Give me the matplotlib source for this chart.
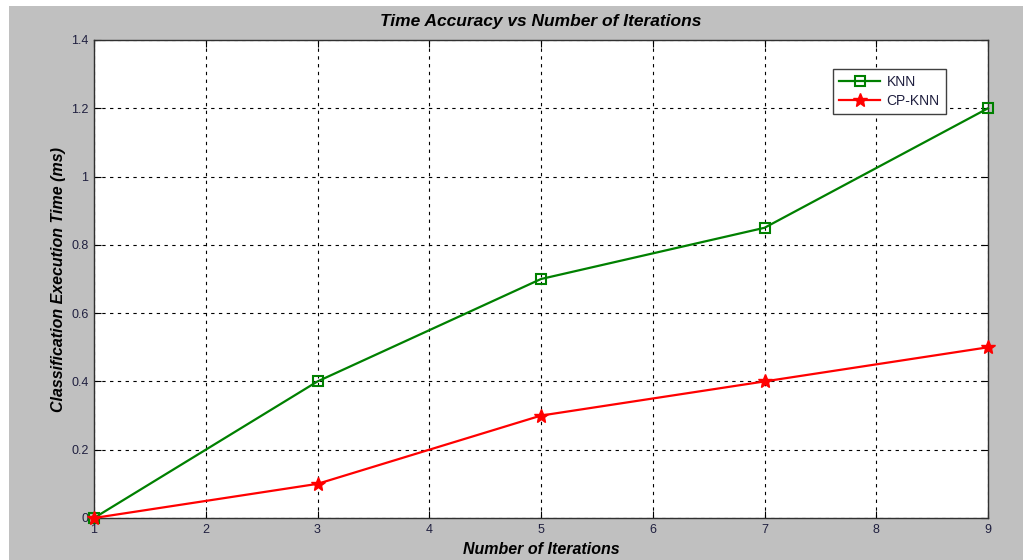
import matplotlib.pyplot as plt
from matplotlib.patches import Rectangle

iterations = [1, 3, 5, 7, 9]
knn_time = [0.0, 0.4, 0.7, 0.85, 1.2]
cpknn_time = [0.0, 0.1, 0.3, 0.4, 0.5]
x_ticks = [1, 2, 3, 4, 5, 6, 7, 8, 9]
y_ticks = [0, 0.2, 0.4, 0.6, 0.8, 1.0, 1.2, 1.4]
y_tick_labels = ["0", "0.2", "0.4", "0.6", "0.8", "1", "1.2", "1.4"]

plt.rcParams["font.family"] = ["Liberation Sans", "DejaVu Sans"]

fig = plt.figure(figsize=(10.23, 5.6), dpi=100, facecolor="white")
# grey MATLAB-style figure background
fig.patches.append(Rectangle((9 / 1023, 0), 1, 1 - 6 / 560, transform=fig.transFigure,
                             facecolor="#c0c0c0", edgecolor="none", zorder=-10))

ax = fig.add_axes([94 / 1023, 42 / 560, (988 - 94) / 1023, (518 - 40) / 560])
ax.set_facecolor("white")

ax.plot(iterations, knn_time, color="#008000", linewidth=1.6, marker="s",
        markersize=6.5, markerfacecolor="none", markeredgecolor="#008000",
        markeredgewidth=1.5, label="KNN", clip_on=False, zorder=3)
ax.plot(iterations, cpknn_time, color="#ff0000", linewidth=1.6, marker="*",
        markersize=10, markerfacecolor="#ff0000", markeredgecolor="#ff0000",
        label="CP-KNN", clip_on=False, zorder=4)

ax.set_xlim(1, 9)
ax.set_ylim(0, 1.4)
ax.set_xticks(x_ticks)
ax.set_yticks(y_ticks)
ax.set_yticklabels(y_tick_labels)

tick_color = "#202040"
ax.tick_params(direction="in", top=True, right=True, length=5, width=0.8,
               labelsize=9, labelcolor=tick_color, pad=4)
ax.grid(True, color="black", linestyle=(0, (3, 4)), linewidth=0.8)
for spine in ax.spines.values():
    spine.set_color("#303030")
    spine.set_linewidth(1.0)

ax.set_title("Time Accuracy vs Number of Iterations", fontsize=12.5,
             fontweight="bold", style="italic", pad=10)
ax.set_xlabel("Number of Iterations", fontsize=11.5, fontweight="bold",
              style="italic", labelpad=5)
ax.set_ylabel("Classification Execution Time (ms)", fontsize=11.5,
              fontweight="bold", style="italic", labelpad=4)

leg = ax.legend(loc="upper right", fontsize=10, fancybox=False,
                framealpha=1, edgecolor="#404040", borderpad=0.45,
                handlelength=2.9, labelspacing=0.35, handletextpad=0.5,
                bbox_to_anchor=((946 - 94) / (988 - 94), (518 - 69) / 478),
                bbox_transform=ax.transAxes, borderaxespad=0)
leg.get_frame().set_linewidth(1.0)
for t in leg.get_texts():
    t.set_color(tick_color)

fig.savefig("out.png", dpi=100, facecolor=fig.get_facecolor())
